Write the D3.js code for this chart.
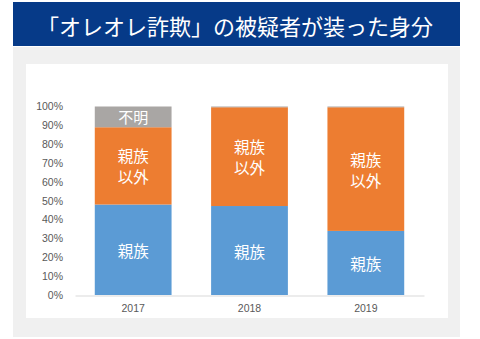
<!DOCTYPE html>
<html>
<head>
<meta charset="utf-8">
<script src="https://cdn.jsdelivr.net/npm/d3@7"></script>
<style>
  body { margin: 0; background: #fff; }
  svg { display: block; }
</style>
</head>
<body>
<svg></svg>
<script>
const [svgWidth, svgHeight] = [480, 339];
const svg = d3.select('svg')
  .attr('width', svgWidth)
  .attr('height', svgHeight);

// data
const title = '「オレオレ詐欺」の被疑者が装った身分';
const years = ['2017', '2018', '2019'];
const kin = [0.48, 0.472, 0.34];
const nonKin = [0.41, 0.524, 0.656];
const unknown = [0.11, 0.004, 0.004];
const seriesLabels = [['親族'], ['親族', '以外'], ['不明']];
const seriesColors = ['#5b9bd5', '#ed7d31', '#a9a6a4'];
const yTicks = [0, 0.1, 0.2, 0.3, 0.4, 0.5, 0.6, 0.7, 0.8, 0.9, 1];

const jp = '"Noto Sans CJK JP", "Noto Sans", sans-serif';
const latin = '"Liberation Sans", "Noto Sans", sans-serif';

// frames
svg.append('rect')
  .attr('x', 13).attr('y', 47)
  .attr('width', 447).attr('height', 290)
  .attr('fill', '#f0f0f0');
svg.append('rect')
  .attr('x', 26).attr('y', 64)
  .attr('width', 422).attr('height', 254)
  .attr('fill', '#fff');

// title banner
svg.append('rect')
  .attr('x', 13).attr('y', 2)
  .attr('width', 447).attr('height', 44)
  .attr('fill', '#063a88');
svg.append('text')
  .attr('x', 235).attr('y', 25)
  .attr('text-anchor', 'middle')
  .attr('dominant-baseline', 'central')
  .attr('fill', '#fff')
  .attr('font-family', jp)
  .attr('font-size', 22)
  .text(title);

// scales
const x = d3.scaleBand()
  .domain(years)
  .range([75, 424])
  .paddingInner(0.34)
  .paddingOuter(0.17);
const y = d3.scaleLinear()
  .domain([0, 1])
  .range([295, 106.5]);

const tbl = years.map((yr, i) => ({ year: yr, kin: kin[i], nonKin: nonKin[i], unknown: unknown[i] }));
const layers = d3.stack().keys(['kin', 'nonKin', 'unknown'])(tbl);

// y axis
const yAxis = svg.append('g')
  .attr('transform', 'translate(66,0)')
  .call(d3.axisLeft(y).tickValues(yTicks).tickFormat(d3.format('.0%')).tickSize(0).tickPadding(3));
yAxis.select('.domain').remove();
yAxis.selectAll('text')
  .attr('fill', '#595959')
  .attr('font-family', latin)
  .attr('font-size', 10.5);

// bars
const layerG = svg.selectAll('g.layer')
  .data(layers)
  .enter()
  .append('g')
  .classed('layer', true)
  .attr('fill', (d, i) => seriesColors[i]);
layerG.selectAll('rect')
  .data(d => d)
  .enter()
  .append('rect')
  .attr('x', d => x(d.data.year))
  .attr('y', d => y(d[1]))
  .attr('width', x.bandwidth())
  .attr('height', d => y(d[0]) - y(d[1]));

// segment labels
layers.forEach((layer, li) => {
  layer.forEach(d => {
    if (d[1] - d[0] < 0.05) return;
    const lines = seriesLabels[li];
    const cy = (y(d[0]) + y(d[1])) / 2;
    const lh = 21;
    lines.forEach((ln, k) => {
      svg.append('text')
        .attr('x', x(d.data.year) + x.bandwidth() / 2)
        .attr('y', cy + (k - (lines.length - 1) / 2) * lh)
        .attr('text-anchor', 'middle')
        .attr('dominant-baseline', 'central')
        .attr('fill', '#fff')
        .attr('font-family', jp)
        .attr('font-size', li === 2 ? 15 : 15.5)
        .text(ln);
    });
  });
});

// x axis
const xAxis = svg.append('g')
  .attr('transform', 'translate(0,295.5)')
  .call(d3.axisBottom(x).tickSize(0).tickPadding(9));
xAxis.select('.domain').attr('stroke', '#d9d9d9');
xAxis.selectAll('text')
  .attr('fill', '#595959')
  .attr('font-family', latin)
  .attr('font-size', 10.5);
</script>
</body>
</html>
